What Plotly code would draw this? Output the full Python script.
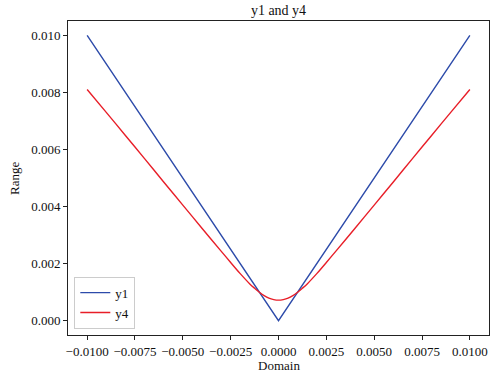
import plotly.graph_objects as go

# y1 = |x| (V shape)
x1 = [-0.010, 0.0, 0.010]
y1 = [0.010, 0.0, 0.010]

# y4
x4 = [-0.010, -0.009, -0.008, -0.007, -0.006, -0.005, -0.004, -0.003, -0.0025, -0.002,
      -0.0015, -0.00125, -0.001, -0.00075, -0.0005, -0.00025, 0.0,
      0.00025, 0.0005, 0.00075, 0.001, 0.00125, 0.0015, 0.002, 0.0025, 0.003,
      0.004, 0.005, 0.006, 0.007, 0.008, 0.009, 0.010]
y4 = [0.00810, 0.00730, 0.00649, 0.00568, 0.00486, 0.00405, 0.00324, 0.00244, 0.00204, 0.00165,
      0.00129, 0.00114, 0.00100, 0.00088, 0.00079, 0.00074, 0.00072,
      0.00074, 0.00079, 0.00088, 0.00100, 0.00114, 0.00129, 0.00165, 0.00204, 0.00244,
      0.00324, 0.00405, 0.00486, 0.00568, 0.00649, 0.00730, 0.00810]

xtick_vals = [-0.01, -0.0075, -0.005, -0.0025, 0.0, 0.0025, 0.005, 0.0075, 0.01]
xtick_text = ["\u22120.0100", "\u22120.0075", "\u22120.0050", "\u22120.0025", "0.0000",
              "0.0025", "0.0050", "0.0075", "0.0100"]
ytick_vals = [0.0, 0.002, 0.004, 0.006, 0.008, 0.010]
ytick_text = ["0.000", "0.002", "0.004", "0.006", "0.008", "0.010"]

FONT = "Liberation Serif"
L, R, T, B = 68, 489, 21, 335
W, H = 496, 373
PW, PH = R - L, B - T

fig = go.Figure()
fig.add_trace(go.Scatter(x=x1, y=y1, mode="lines", name="y1",
                         line=dict(color="rgb(45,75,170)", width=1.4)))
fig.add_trace(go.Scatter(x=x4, y=y4, mode="lines", name="y4",
                         line=dict(color="rgb(232,30,40)", width=1.4, shape="spline", smoothing=0.8)))

axis_common = dict(showgrid=False, zeroline=False, showline=True, linecolor="#222",
                   linewidth=1, mirror=True, ticks="outside", ticklen=4, tickwidth=1,
                   tickcolor="#222", automargin=False,
                   tickfont=dict(family=FONT, size=13, color="#111"))

fig.update_layout(
    width=W, height=H,
    margin=dict(l=L, r=W - R, t=T, b=H - B),
    paper_bgcolor="white", plot_bgcolor="white",
    font=dict(family=FONT, size=13, color="#111"),
    title=dict(text="y1 and y4", x=(L + R) / 2 / W, xanchor="center",
               y=1 - 10 / H, yanchor="middle", yref="container",
               font=dict(family=FONT, size=14, color="#111")),
    xaxis=dict(range=[-0.011, 0.011], tickvals=xtick_vals, ticktext=xtick_text, **axis_common),
    yaxis=dict(range=[-0.0005, 0.0105], tickvals=ytick_vals, ticktext=ytick_text, **axis_common),
    legend=dict(x=0.015, y=0.02, xanchor="left", yanchor="bottom",
                bgcolor="rgba(255,255,255,0.8)", bordercolor="#ccc", borderwidth=1,
                font=dict(family=FONT, size=13), itemwidth=30, tracegroupgap=0),
    showlegend=True,
    annotations=[
        dict(text="Domain", xref="paper", yref="paper", x=0.5, y=(B - 365) / PH,
             xanchor="center", yanchor="middle", showarrow=False,
             font=dict(family=FONT, size=13, color="#111")),
        dict(text="Range", xref="paper", yref="paper", x=(14 - L) / PW, y=0.5,
             xanchor="center", yanchor="middle", textangle=-90, showarrow=False,
             font=dict(family=FONT, size=13, color="#111")),
    ],
)

fig.write_html("out.html", config={"displayModeBar": False},
               post_script="document.body.style.margin='0';document.body.style.overflow='hidden';")
